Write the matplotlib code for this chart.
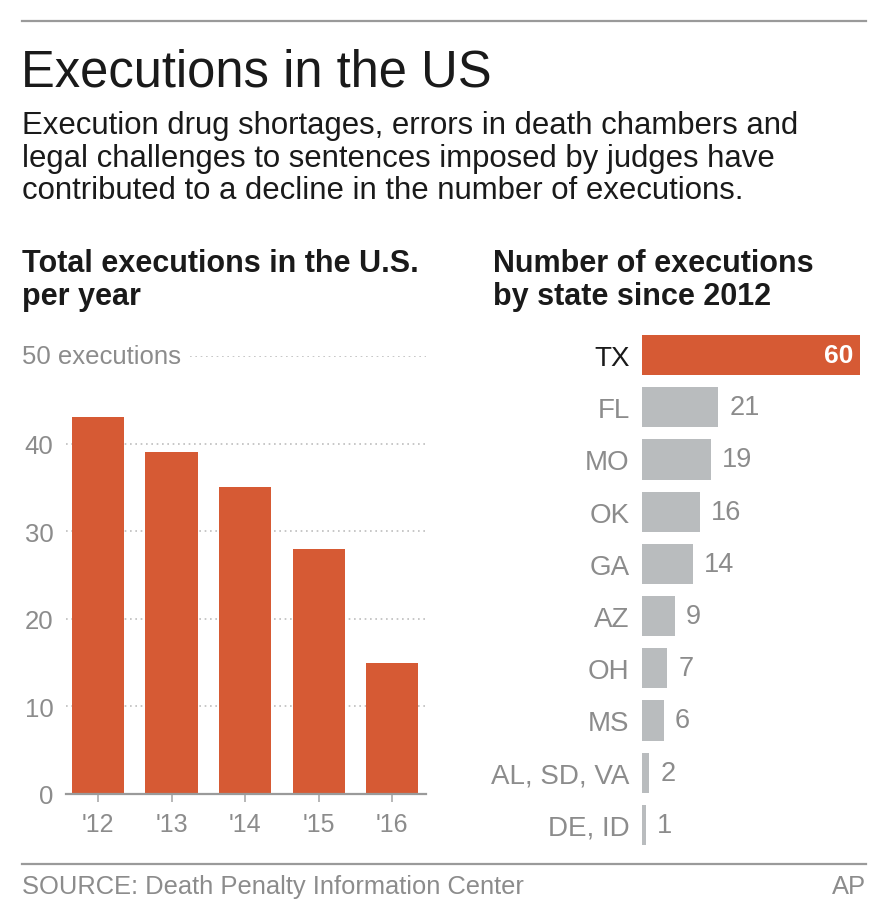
import matplotlib
matplotlib.use('Agg')
import matplotlib.pyplot as plt
import matplotlib.transforms as mtransforms

# data
years = ["'12", "'13", "'14", "'15", "'16"]
year_totals = [43, 39, 35, 28, 15]
y_ticks = [0, 10, 20, 30, 40]

states = ["TX", "FL", "MO", "OK", "GA", "AZ", "OH", "MS", "AL, SD, VA", "DE, ID"]
state_counts = [60, 21, 19, 16, 14, 9, 7, 6, 2, 1]

ORANGE = '#D65A34'
GRAY_BAR = '#B9BCBE'
GRAY_TXT = '#8C8C8C'
DARK = '#1A1A1A'

plt.rcParams['font.family'] = ['Liberation Sans', 'DejaVu Sans']

W, H = 889, 920
fig = plt.figure(figsize=(W / 100, H / 100), dpi=100)
fig.patch.set_facecolor('white')


def fx(px):
    return px / W


def fy(py):
    return 1 - py / H


# header
fig.add_artist(plt.Line2D([fx(22), fx(866)], [fy(22), fy(22)], color='#9A9A9A', lw=1.6))
fig.text(fx(21), fy(73), "Executions in the US", fontsize=36.5, color=DARK, va='center', ha='left')
subtitle = ["Execution drug shortages, errors in death chambers and",
            "legal challenges to sentences imposed by judges have",
            "contributed to a decline in the number of executions."]
for i, line in enumerate(subtitle):
    fig.text(fx(22), fy(126 + i * 32.5), line, fontsize=22.4, color=DARK, va='center', ha='left')

for px, lines in [(22, ["Total executions in the U.S.", "per year"]),
                  (493, ["Number of executions", "by state since 2012"])]:
    for i, line in enumerate(lines):
        fig.text(fx(px), fy(264 + i * 33), line, fontsize=22, weight='bold', color=DARK, va='center')

# left chart: executions per year
ax1 = fig.add_axes([fx(66), fy(795), fx(426) - fx(66), fy(357) - fy(795)])
x = list(range(len(years)))
for v in y_ticks[1:]:
    ax1.axhline(v, color='#BDBDBD', lw=1.2, ls=(0, (1, 2.2)), zorder=0)
ax1.axhline(50, xmin=0.345, color='#BDBDBD', lw=1.2, ls=(0, (1, 2.2)), zorder=0)
ax1.bar(x, year_totals, width=0.71, color=ORANGE, zorder=2)
ax1.set_xlim(-0.435, 4.46)
ax1.set_ylim(0, 50)
ax1.set_yticks(y_ticks)
ax1.set_yticklabels([str(v) for v in y_ticks], fontsize=18.5, color=GRAY_TXT)
ax1.tick_params(axis='y', length=0, pad=9)
ax1.set_xticks(x)
ax1.set_xticklabels(years, fontsize=18, color=GRAY_TXT)
ax1.tick_params(axis='x', length=6, width=1.2, color='#AAAAAA', pad=7)
for s in ['top', 'right', 'left']:
    ax1.spines[s].set_visible(False)
ax1.spines['bottom'].set_color('#9A9A9A')
ax1.spines['bottom'].set_linewidth(1.6)
trans = mtransforms.blended_transform_factory(fig.transFigure, ax1.transData)
ax1.text(fx(22), 50, "50 executions", transform=trans, fontsize=18.5, color=GRAY_TXT,
         va='center', ha='left')

# right chart: executions by state
ax2 = fig.add_axes([fx(642), fy(852), fx(860) - fx(642), fy(330) - fy(852)])
rows = list(range(len(states)))
colors = [ORANGE] + [GRAY_BAR] * (len(states) - 1)
ax2.barh(rows, state_counts, height=0.77, color=colors)
ax2.set_xlim(0, 60)
ax2.set_ylim(len(states) - 0.5, -0.5)
ax2.set_yticks(rows)
ax2.set_yticklabels(states, fontsize=20, color=GRAY_TXT)
ax2.get_yticklabels()[0].set_color(DARK)
ax2.tick_params(axis='y', length=0, pad=9)
ax2.set_xticks([])
for s in ax2.spines.values():
    s.set_visible(False)
for i, v in enumerate(state_counts):
    if i == 0:
        ax2.annotate(str(v), (v, i), xytext=(-5, 0), textcoords='offset points',
                     ha='right', va='center', fontsize=19, weight='bold', color='white')
    else:
        ax2.annotate(str(v), (v, i), xytext=(8, 0), textcoords='offset points',
                     ha='left', va='center', fontsize=19.5, color=GRAY_TXT)

# footer
fig.add_artist(plt.Line2D([fx(22), fx(866)], [fy(865), fy(865)], color='#9A9A9A', lw=1.6))
fig.text(fx(22), fy(887), "SOURCE: Death Penalty Information Center", fontsize=18.4,
         color=GRAY_TXT, va='center', ha='left')
fig.text(fx(866), fy(887), "AP", fontsize=18.4, color=GRAY_TXT, va='center', ha='right')

fig.savefig('out.png', dpi=100, facecolor='white')
